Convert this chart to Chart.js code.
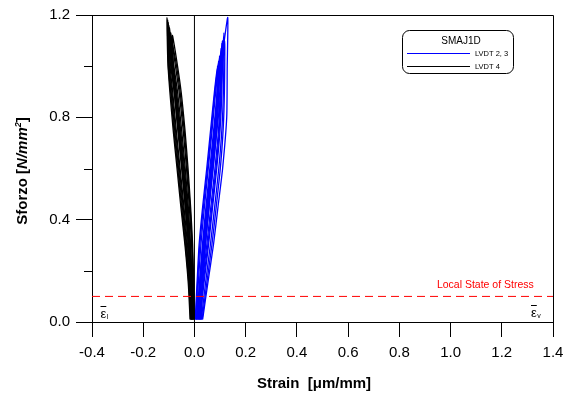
<!DOCTYPE html>
<html><head><meta charset="utf-8">
<script src="https://cdn.jsdelivr.net/npm/chart.js@4.4.1/dist/chart.umd.min.js"></script>
<style>html,body{margin:0;padding:0;background:#fff}#wrap{width:578px;height:394px;position:relative}</style>
</head><body><div id="wrap"><canvas id="c"></canvas></div>
<script>
// ---- tick values ----
const xTickValues = [-0.4,-0.2,0.0,0.2,0.4,0.6,0.8,1.0,1.2,1.4];
const yTickValues = [0.0,0.4,0.8,1.2];
const yMinorTicks = [0.2,0.6,1.0];
const localStress = 0.1;

// ---- LVDT 2, 3 (blue) cycles [strain, stress] ----
const lvdt23_c1 = [[0.003,0.01],[0.010,0.15],[0.018,0.30],[0.032,0.45],[0.048,0.60],[0.063,0.75],[0.078,0.90],[0.090,1.00],[0.088,0.90],[0.080,0.75],[0.066,0.60],[0.050,0.45],[0.034,0.30],[0.020,0.15],[0.008,0.01]];
const lvdt23_c2 = [[0.005,0.01],[0.012,0.15],[0.021,0.30],[0.035,0.45],[0.051,0.60],[0.066,0.75],[0.080,0.90],[0.094,1.02],[0.092,0.90],[0.084,0.75],[0.070,0.60],[0.054,0.45],[0.038,0.30],[0.023,0.15],[0.010,0.01]];
const lvdt23_c3 = [[0.008,0.01],[0.015,0.15],[0.025,0.30],[0.039,0.45],[0.054,0.60],[0.069,0.75],[0.083,0.90],[0.098,1.04],[0.095,0.90],[0.087,0.75],[0.073,0.60],[0.057,0.45],[0.041,0.30],[0.026,0.15],[0.013,0.01]];
const lvdt23_c4 = [[0.013,0.01],[0.020,0.15],[0.031,0.30],[0.045,0.45],[0.060,0.60],[0.075,0.75],[0.089,0.90],[0.104,1.07],[0.101,0.90],[0.094,0.75],[0.080,0.60],[0.064,0.45],[0.048,0.30],[0.031,0.15],[0.018,0.01]];
const lvdt23_c5 = [[0.016,0.01],[0.022,0.15],[0.033,0.30],[0.048,0.45],[0.063,0.60],[0.078,0.75],[0.092,0.90],[0.107,1.09],[0.104,0.90],[0.097,0.75],[0.084,0.60],[0.068,0.45],[0.052,0.30],[0.034,0.15],[0.020,0.01]];
const lvdt23_c6 = [[0.018,0.01],[0.025,0.15],[0.036,0.30],[0.050,0.45],[0.065,0.60],[0.080,0.75],[0.094,0.90],[0.109,1.10],[0.107,0.90],[0.100,0.75],[0.087,0.60],[0.071,0.45],[0.055,0.30],[0.037,0.15],[0.022,0.01]];
const lvdt23_c7 = [[0.022,0.01],[0.029,0.15],[0.040,0.30],[0.054,0.45],[0.069,0.60],[0.084,0.75],[0.099,0.90],[0.115,1.13],[0.113,0.90],[0.107,0.75],[0.095,0.60],[0.079,0.45],[0.062,0.30],[0.043,0.15],[0.027,0.01]];
const lvdt23_c8 = [[0.024,0.01],[0.030,0.15],[0.042,0.30],[0.056,0.45],[0.072,0.60],[0.088,0.75],[0.103,0.90],[0.118,1.10],[0.117,0.90],[0.112,0.75],[0.101,0.60],[0.085,0.45],[0.068,0.30],[0.048,0.15],[0.030,0.01]];
const lvdt23_c9 = [[0.027,0.01],[0.032,0.15],[0.043,0.30],[0.057,0.45],[0.068,0.60],[0.078,0.75],[0.092,0.90],[0.110,1.05],[0.130,1.19],[0.128,1.00],[0.126,0.80],[0.110,0.60],[0.092,0.45],[0.074,0.30],[0.052,0.15],[0.032,0.01]];

// ---- LVDT 4 (black) cycles [strain, stress] ----
const lvdt4_c1 = [[-0.001,0.01],[-0.003,0.15],[-0.007,0.30],[-0.015,0.45],[-0.025,0.60],[-0.037,0.75],[-0.052,0.90],[-0.069,1.02],[-0.086,1.12],[-0.082,1.00],[-0.072,0.90],[-0.058,0.75],[-0.044,0.60],[-0.030,0.45],[-0.018,0.30],[-0.009,0.15],[-0.004,0.01]];
const lvdt4_c2 = [[-0.002,0.01],[-0.004,0.15],[-0.009,0.30],[-0.017,0.45],[-0.028,0.60],[-0.040,0.75],[-0.056,0.90],[-0.073,1.02],[-0.090,1.10],[-0.086,1.00],[-0.076,0.90],[-0.062,0.75],[-0.047,0.60],[-0.033,0.45],[-0.020,0.30],[-0.011,0.15],[-0.005,0.01]];
const lvdt4_c3 = [[-0.004,0.01],[-0.006,0.15],[-0.011,0.30],[-0.020,0.45],[-0.031,0.60],[-0.044,0.75],[-0.060,0.90],[-0.077,1.02],[-0.093,1.13],[-0.089,1.00],[-0.079,0.90],[-0.065,0.75],[-0.050,0.60],[-0.036,0.45],[-0.023,0.30],[-0.013,0.15],[-0.007,0.01]];
const lvdt4_c4 = [[-0.007,0.01],[-0.009,0.15],[-0.015,0.30],[-0.024,0.45],[-0.036,0.60],[-0.050,0.75],[-0.066,0.90],[-0.083,1.02],[-0.098,1.15],[-0.095,1.00],[-0.085,0.90],[-0.071,0.75],[-0.056,0.60],[-0.041,0.45],[-0.027,0.30],[-0.016,0.15],[-0.010,0.01]];
const lvdt4_c5 = [[-0.008,0.01],[-0.010,0.15],[-0.017,0.30],[-0.027,0.45],[-0.039,0.60],[-0.054,0.75],[-0.070,0.90],[-0.086,1.02],[-0.101,1.16],[-0.098,1.00],[-0.088,0.90],[-0.074,0.75],[-0.059,0.60],[-0.044,0.45],[-0.030,0.30],[-0.018,0.15],[-0.011,0.01]];
const lvdt4_c6 = [[-0.010,0.01],[-0.012,0.15],[-0.019,0.30],[-0.029,0.45],[-0.042,0.60],[-0.057,0.75],[-0.073,0.90],[-0.089,1.02],[-0.103,1.17],[-0.100,1.00],[-0.091,0.90],[-0.077,0.75],[-0.062,0.60],[-0.047,0.45],[-0.032,0.30],[-0.020,0.15],[-0.013,0.01]];
const lvdt4_c7 = [[-0.012,0.01],[-0.014,0.15],[-0.022,0.30],[-0.032,0.45],[-0.045,0.60],[-0.060,0.75],[-0.076,0.90],[-0.092,1.02],[-0.105,1.18],[-0.102,1.00],[-0.093,0.90],[-0.080,0.75],[-0.065,0.60],[-0.050,0.45],[-0.035,0.30],[-0.022,0.15],[-0.015,0.01]];
const lvdt4_c8 = [[-0.013,0.01],[-0.016,0.15],[-0.024,0.30],[-0.035,0.45],[-0.048,0.60],[-0.063,0.75],[-0.079,0.90],[-0.095,1.02],[-0.107,1.19],[-0.104,1.02],[-0.096,0.90],[-0.083,0.75],[-0.068,0.60],[-0.053,0.45],[-0.037,0.30],[-0.024,0.15],[-0.017,0.01]];

const blueCycles = [lvdt23_c1,lvdt23_c2,lvdt23_c3,lvdt23_c4,lvdt23_c5,lvdt23_c6,lvdt23_c7,lvdt23_c8,lvdt23_c9];
const blackCycles = [lvdt4_c1,lvdt4_c2,lvdt4_c3,lvdt4_c4,lvdt4_c5,lvdt4_c6,lvdt4_c7,lvdt4_c8];

const toPts = arr => arr.map(p => ({x:p[0], y:p[1]}));
const datasets = [];
datasets.push({label:'local', data:[{x:-0.4,y:localStress},{x:1.4,y:localStress}], borderColor:'#ff0000', borderWidth:1, borderDash:[8,5], order:0});
datasets.push({label:'zero', data:[{x:0,y:0},{x:0,y:1.2}], borderColor:'#000', borderWidth:1, order:1});
blueCycles.forEach(c=>datasets.push({label:'LVDT 2, 3', data:toPts(c), borderColor:'#0000ff', borderWidth:1.3, tension:0.2, order:2}));
blackCycles.forEach(c=>datasets.push({label:'LVDT 4', data:toPts(c), borderColor:'#000000', borderWidth:1.3, tension:0.2, order:3}));

const FONT = '"Liberation Sans", Arial, sans-serif';

const decor = {
  id:'decor',
  afterDraw(chart){
    const {ctx, chartArea:a, scales:{x, y}} = chart;
    ctx.save();
    ctx.strokeStyle = '#000'; ctx.lineWidth = 1;
    // top and right frame
    ctx.beginPath();
    ctx.moveTo(a.left, Math.round(a.top)+0.5);
    ctx.lineTo(Math.round(a.right)+0.5, Math.round(a.top)+0.5);
    ctx.lineTo(Math.round(a.right)+0.5, Math.round(a.bottom));
    ctx.stroke();
    // minor y ticks
    ctx.beginPath();
    yMinorTicks.forEach(v => {
      const py = Math.round(y.getPixelForValue(v)) + 0.5;
      ctx.moveTo(a.left - 8, py); ctx.lineTo(a.left, py);
    });
    ctx.stroke();

    // Local State of Stress label
    ctx.fillStyle = '#ff0000';
    ctx.font = '10.5px ' + FONT;
    ctx.textAlign = 'right'; ctx.textBaseline = 'middle';
    ctx.fillText('Local State of Stress', x.getPixelForValue(1.325), y.getPixelForValue(0.145));

    // epsilon labels
    ctx.fillStyle = '#000';
    ctx.textAlign = 'left'; ctx.textBaseline = 'alphabetic';
    const eps = (px, py, sub) => {
      ctx.font = '13px ' + FONT;
      ctx.fillText('ε', px, py);
      const w = ctx.measureText('ε').width;
      ctx.beginPath(); ctx.moveTo(px, py - 11.5); ctx.lineTo(px + w, py - 11.5); ctx.stroke();
      ctx.font = '7px ' + FONT;
      ctx.fillText(sub, px + w + 0.5, py + 1);
    };
    eps(a.left + 8.5, a.bottom - 4, 'l');
    eps(a.right - 22, a.bottom - 5, 'v');

    // legend box
    ctx.beginPath();
    ctx.roundRect(402.5, 30.5, 111, 43, 7);
    ctx.stroke();
    ctx.font = '10px ' + FONT; ctx.textAlign = 'center'; ctx.textBaseline = 'middle';
    ctx.fillText('SMAJ1D', 461, 41.5);
    ctx.lineWidth = 1;
    ctx.strokeStyle = '#0000ff';
    ctx.beginPath(); ctx.moveTo(407, 53.5); ctx.lineTo(470, 53.5); ctx.stroke();
    ctx.strokeStyle = '#000';
    ctx.beginPath(); ctx.moveTo(407, 66.5); ctx.lineTo(470, 66.5); ctx.stroke();
    ctx.font = '7.5px ' + FONT; ctx.textAlign = 'left';
    ctx.fillText('LVDT 2, 3', 475, 53.5);
    ctx.fillText('LVDT 4', 475, 66.5);

    // x title
    ctx.font = 'bold 15px ' + FONT; ctx.textAlign = 'center'; ctx.textBaseline = 'middle';
    ctx.fillText('Strain  [\u03BCm/mm]', 314, 384);

    // y title (rotated, mixed styles)
    ctx.translate(23, 171);
    ctx.rotate(-Math.PI/2);
    const parts = [['Sforzo [', 'bold 15px '], ['N/mm', 'italic bold 15px '], ['2', 'italic bold 9px '], [']', 'bold 15px ']];
    let total = 0;
    parts.forEach(p => { ctx.font = p[1] + FONT; total += ctx.measureText(p[0]).width; });
    let cx = -total/2;
    ctx.textAlign = 'left'; ctx.textBaseline = 'middle';
    parts.forEach(p => {
      ctx.font = p[1] + FONT;
      ctx.fillText(p[0], cx, p[0] === '2' ? -4 : 0);
      cx += ctx.measureText(p[0]).width;
    });
    ctx.restore();
  }
};

const fmt = v => (Math.abs(v) < 1e-9 ? 0 : v).toFixed(1);

new Chart(document.getElementById('c'), {
  type:'scatter',
  data:{datasets},
  options:{
    responsive:true, maintainAspectRatio:false, animation:false, devicePixelRatio:1,
    showLine:true,
    elements:{point:{radius:0, hoverRadius:0}, line:{borderCapStyle:'butt'}},
    layout:{padding:{left:0, right:25, top:15, bottom:0}},
    plugins:{legend:{display:false}, tooltip:{enabled:false}, title:{display:false}},
    scales:{
      x:{
        type:'linear', min:-0.4, max:1.4,
        afterBuildTicks: s => { s.ticks = xTickValues.map(v => ({value:v})); },
        afterFit: s => { s.height = 72; },
        grid:{drawOnChartArea:false, drawTicks:true, tickLength:15, color:'#000', tickColor:'#000', lineWidth:1},
        border:{display:true, color:'#000', width:1},
        ticks:{color:'#000', font:{family:FONT, size:15}, padding:7, maxRotation:0, autoSkip:false, callback:v => fmt(v)}
      },
      y:{
        type:'linear', min:0, max:1.2,
        afterBuildTicks: s => { s.ticks = yTickValues.map(v => ({value:v})); },
        afterFit: s => { s.width = 92; },
        grid:{drawOnChartArea:false, drawTicks:true, tickLength:16, color:'#000', tickColor:'#000', lineWidth:1},
        border:{display:true, color:'#000', width:1},
        ticks:{color:'#000', font:{family:FONT, size:15}, padding:6, autoSkip:false, callback:v => fmt(v)}
      }
    }
  },
  plugins:[decor]
});
</script></body></html>
